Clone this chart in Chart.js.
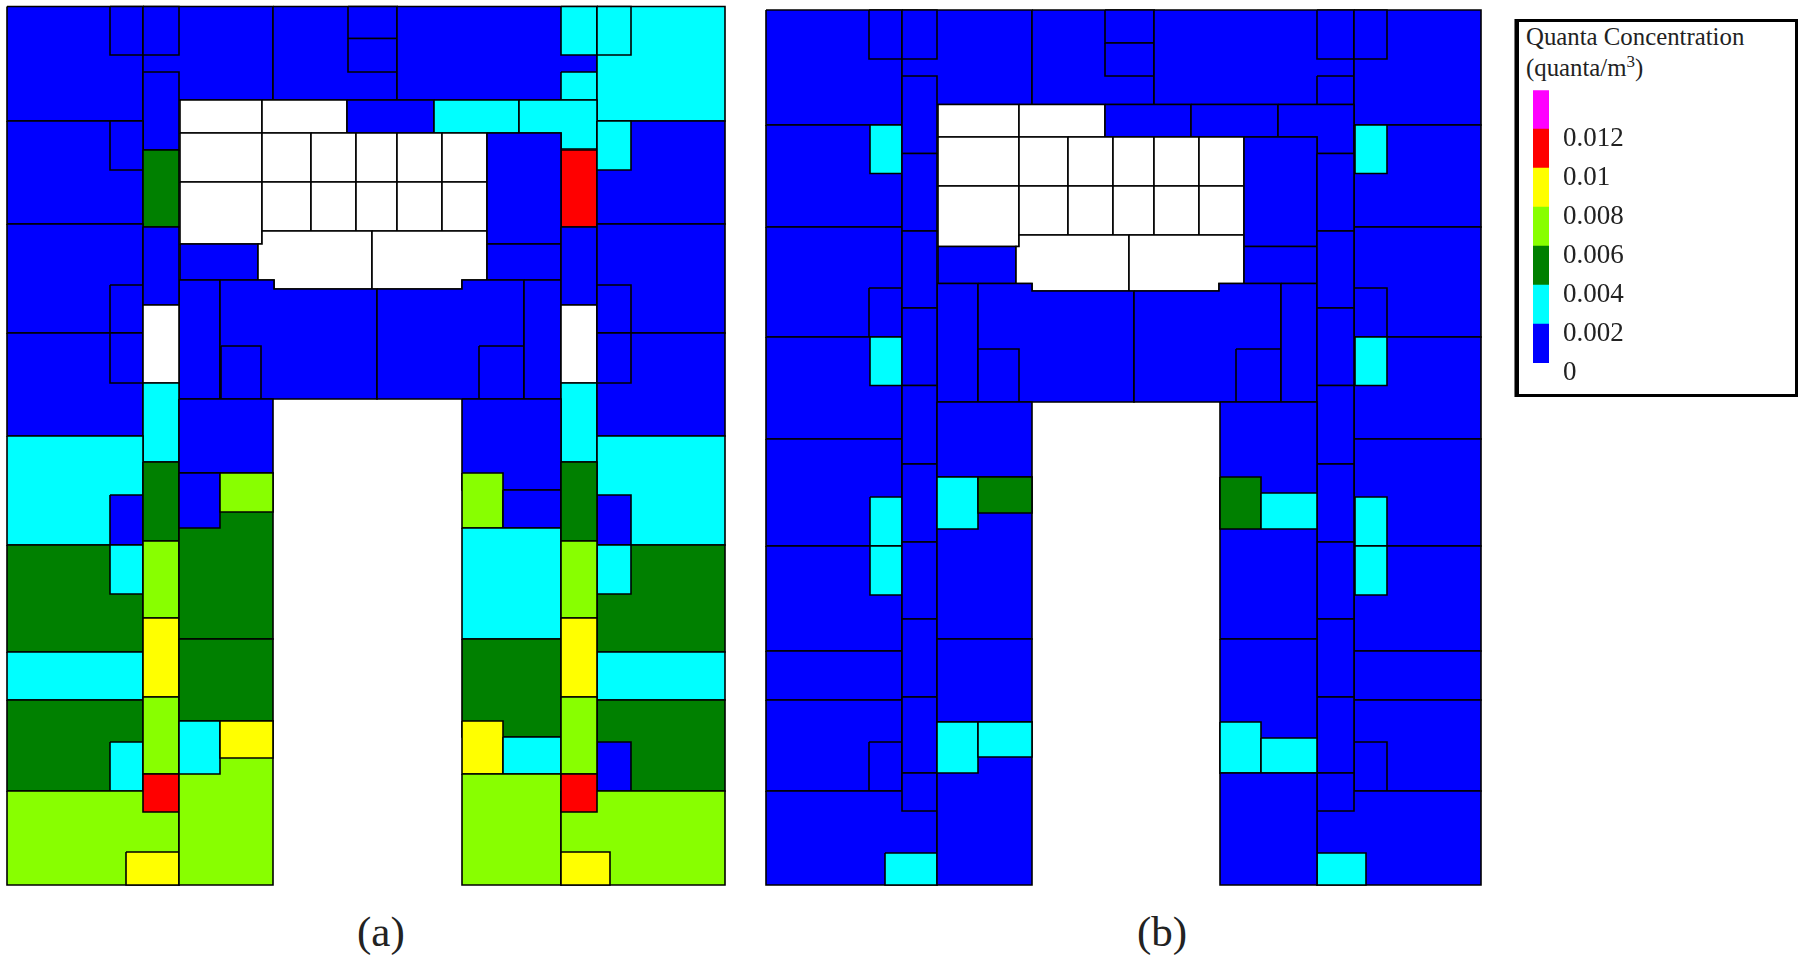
<!DOCTYPE html>
<html>
<head>
<meta charset="utf-8">
<title>Quanta Concentration</title>
<script src="https://cdn.jsdelivr.net/npm/chart.js@4"></script>
<style>
  html, body { margin: 0; padding: 0; background: #fff; width: 1800px; height: 962px; overflow: hidden; }
  canvas { position: absolute; display: block; }
  .caption { position: absolute; font-family: "Liberation Serif", serif; font-size: 43px; line-height: 48px; color: #222; }
  #legendBox { position: absolute; left: 1515px; top: 19px; width: 276px; height: 372px; border: 3px solid #000; border-left-width: 4px; box-shadow: -1px 0 0 #777; }
  #legendTitle { position: absolute; left: 1526px; top: 21px; font-family: "Liberation Serif", serif; font-size: 24.8px; line-height: 31px; color: #222; white-space: nowrap; }
  #legendTitle sup { font-size: 17px; line-height: 0; }
</style>
</head>
<body>
<canvas id="panelA" width="750" height="900" style="left:0;top:0"></canvas>
<canvas id="panelB" width="750" height="900" style="left:750px;top:0"></canvas>
<div class="caption" style="left:357px;top:908px">(a)</div>
<div class="caption" style="left:1137px;top:908px">(b)</div>
<div id="legendBox"></div>
<div id="legendTitle">Quanta Concentration<br>(quanta/m<sup>3</sup>)</div>
<canvas id="legendBar" width="250" height="349" style="left:1533px;top:60px"></canvas>
<script>
// colour bar
const levelColors = ['#0000ff', '#00ffff', '#008000', '#88ff00', '#ffff00', '#ff0000', '#ff00ff'];
const levelStep = 0.002;
const tickLabels = ['0', '0.002', '0.004', '0.006', '0.008', '0.01', '0.012', ''];

// rooms: [quanta/m3, outline in plan units], null = no value (white)
// two numbers pairs = opposite corners, more = polygon. Later rooms sit on top.
const roomsA = [
  [0.001, [7,6.5,143,121]], [0.001, [110,6.5,143,55]],
  [0.001, [143,6.5,273,100]], [0.001, [143,6.5,179,55]], [0.001, [143,72,179,150]],
  [0.001, [273,6.5,397,100]], [0.001, [348,6.5,397,38.5]], [0.001, [348,38.5,397,72]],
  [0.001, [397,6.5,597,100]], [0.003, [561,6.5,597,55]], [0.003, [561,72,597,100]],
  [0.003, [597,6.5,725,121]], [0.003, [597,6.5,631,55]],
  [null, [180,100,262,133]], [null, [262,100,347,133]], [0.001, [347,100,434,133]], [0.003, [434,100,519,133]],
  [0.003, [519,100,597,100,597,149,561,149,561,133,519,133]],
  [0.001, [7,121,143,224]], [0.001, [110,121,143,170]],
  [0.005, [143,150,179,227]], [0.011, [561,150,597,227]],
  [0.001, [597,121,725,224]], [0.003, [597,121,631,170]],
  [null, [180,133,262,182]], [null, [262,133,311,182]], [null, [311,133,356,182]], [null, [356,133,397,182]], [null, [397,133,442,182]], [null, [442,133,487,182]],
  [null, [180,182,262,244]], [null, [262,182,311,231]], [null, [311,182,356,231]], [null, [356,182,397,231]], [null, [397,182,442,231]], [null, [442,182,487,231]],
  [0.001, [180,244,258,280]],
  [null, [262,231,372,231,372,289,274,289,274,280,258,280,258,244,262,244]],
  [null, [372,231,487,231,487,280,462,280,462,289,372,289]],
  [0.001, [487,133,561,244]], [0.001, [487,244,561,280]],
  [0.001, [179,280,220,399]],
  [0.001, [220,280,274,280,274,289,377,289,377,399,220,399]], [0.001, [221,346,261,399]],
  [0.001, [377,289,462,289,462,280,524,280,524,399,377,399]], [0.001, [479,346,524,399]],
  [0.001, [524,280,561,399]],
  [0.001, [7,224,143,333]], [0.001, [110,285,143,333]],
  [0.001, [7,333,143,436]], [0.001, [110,333,143,383]],
  [0.001, [143,227,179,305]], [null, [143,305,179,383]], [0.003, [143,383,179,462]],
  [0.001, [561,227,597,305]], [null, [561,305,597,383]], [0.003, [561,383,597,462]],
  [0.001, [597,224,725,333]], [0.001, [597,285,631,333]],
  [0.001, [597,333,725,436]], [0.001, [597,333,631,383]],
  [0.003, [7,436,143,545]], [0.001, [110,495,143,545]],
  [0.005, [7,545,143,652]], [0.003, [110,545,143,594]],
  [0.003, [7,652,143,700]],
  [0.005, [7,700,143,791]], [0.003, [110,742,143,791]],
  [0.007, [7,791,179,885]], [0.009, [126,852,179,885]],
  [0.005, [143,462,179,541]], [0.007, [143,541,179,618]], [0.009, [143,618,179,697]], [0.007, [143,697,179,774]], [0.011, [143,774,179,812]],
  [0.001, [179,399,273,473]], [0.005, [179,473,273,639]], [0.001, [179,473,220,528]], [0.007, [220,473,273,512]],
  [0.005, [179,639,273,721]],
  [0.007, [179,721,273,885]], [0.003, [179,721,220,774]], [0.009, [220,721,273,758]],
  [0.001, [462,399,561,490]], [0.007, [462,473,503,528]], [0.001, [503,490,561,528]],
  [0.003, [462,528,561,639]],
  [0.005, [462,639,561,737]], [0.009, [462,721,503,774]], [0.003, [503,737,561,774]],
  [0.007, [462,774,561,885]],
  [0.003, [597,436,725,545]], [0.001, [597,495,631,545]],
  [0.005, [597,545,725,652]], [0.003, [597,545,631,594]],
  [0.003, [597,652,725,700]],
  [0.005, [597,700,725,791]], [0.001, [597,742,631,791]],
  [0.007, [561,791,725,885]], [0.009, [561,852,610,885]],
  [0.005, [561,462,597,541]], [0.007, [561,541,597,618]], [0.009, [561,618,597,697]], [0.007, [561,697,597,774]], [0.011, [561,774,597,812]]
];

const roomsB = [
  [0.001, [766,10,902,125]], [0.001, [869,10,902,59]],
  [0.001, [902,10,1032,104.5]], [0.001, [902,10,937,59]],
  [0.001, [1032,10,1154,104.5]], [0.001, [1105,10,1154,43]], [0.001, [1105,43,1154,76]],
  [0.001, [1154,10,1354,104.5]], [0.001, [1317,10,1354,59]], [0.001, [1317,76,1354,104.5]],
  [0.001, [1354,10,1481,125]], [0.001, [1354,10,1387,59]],
  [null, [938,104.5,1019,137]], [null, [1019,104.5,1105,137]], [0.001, [1105,104.5,1191,137]], [0.001, [1191,104.5,1278,137]],
  [0.001, [1278,104.5,1354,104.5,1354,153.5,1317,153.5,1317,137,1278,137]],
  [0.001, [766,125,902,227]], [0.003, [870,125,902,173.5]],
  [0.001, [1354,125,1481,227]], [0.003, [1355,125,1387,173.5]],
  [null, [938,137,1019,186]], [null, [1019,137,1068,186]], [null, [1068,137,1113,186]], [null, [1113,137,1154,186]], [null, [1154,137,1199,186]], [null, [1199,137,1244,186]],
  [null, [938,186,1019,246.5]], [null, [1019,186,1068,235]], [null, [1068,186,1113,235]], [null, [1113,186,1154,235]], [null, [1154,186,1199,235]], [null, [1199,186,1244,235]],
  [0.001, [938,246.5,1016,283.5]],
  [null, [1019,235,1129,235,1129,291,1032,291,1032,283.5,1016,283.5,1016,246.5,1019,246.5]],
  [null, [1129,235,1244,235,1244,283.5,1219,283.5,1219,291,1129,291]],
  [0.001, [1244,137,1317,246.5]], [0.001, [1244,246.5,1317,283.5]],
  [0.001, [937,283.5,978,402]],
  [0.001, [978,283.5,1032,283.5,1032,291,1134,291,1134,402,978,402]], [0.001, [978,349,1019,402]],
  [0.001, [1134,291,1219,291,1219,283.5,1281,283.5,1281,402,1134,402]], [0.001, [1236,349,1281,402]],
  [0.001, [1281,283.5,1317,402]],
  [0.001, [766,227,902,337]], [0.001, [869,288,902,337]],
  [0.001, [766,337,902,439]], [0.003, [870,337,902,385.5]],
  [0.001, [1354,227,1481,337]], [0.001, [1354,288,1387,337]],
  [0.001, [1354,337,1481,439]], [0.003, [1355,337,1387,385.5]],
  [0.001, [766,439,902,546]], [0.003, [870,497,902,546]],
  [0.001, [766,546,902,651]], [0.003, [870,546,902,595]],
  [0.001, [766,651,902,700]],
  [0.001, [766,700,902,791]], [0.001, [869,742,902,791]],
  [0.001, [766,791,937,885]], [0.003, [885,853,937,885]],
  [0.001, [1354,439,1481,546]], [0.003, [1355,497,1387,546]],
  [0.001, [1354,546,1481,651]], [0.003, [1355,546,1387,595]],
  [0.001, [1354,651,1481,700]],
  [0.001, [1354,700,1481,791]], [0.001, [1354,742,1387,791]],
  [0.001, [1317,791,1481,885]], [0.003, [1317,853,1366,885]],
  [0.001, [902,76,937,153.5]], [0.001, [902,153.5,937,231]], [0.001, [902,231,937,308]], [0.001, [902,308,937,385.5]], [0.001, [902,385.5,937,464]], [0.001, [902,464,937,542]], [0.001, [902,542,937,619]], [0.001, [902,619,937,697]], [0.001, [902,697,937,773]], [0.001, [902,773,937,811]],
  [0.001, [1317,153.5,1354,231]], [0.001, [1317,231,1354,308]], [0.001, [1317,308,1354,385.5]], [0.001, [1317,385.5,1354,464]], [0.001, [1317,464,1354,542]], [0.001, [1317,542,1354,619]], [0.001, [1317,619,1354,697]], [0.001, [1317,697,1354,773]], [0.001, [1317,773,1354,811]],
  [0.001, [937,402,1032,477]], [0.001, [937,477,1032,639]], [0.003, [937,477,978,529]], [0.005, [978,477,1032,513]],
  [0.001, [937,639,1032,722]],
  [0.001, [937,722,1032,885]], [0.003, [937,722,978,773]], [0.003, [978,722,1032,757]],
  [0.001, [1220,402,1317,639]], [0.005, [1220,477,1261,529]], [0.003, [1261,493,1317,529]],
  [0.001, [1220,639,1317,773]], [0.003, [1220,722,1261,773]], [0.003, [1261,738,1317,773]],
  [0.001, [1220,773,1317,885]]
];

function roomColor(value) {
  if (value === null) return '#ffffff';
  return levelColors[Math.floor(value / levelStep)];
}

function outline(coords) {
  const c = coords.length === 4
    ? [coords[0], coords[1], coords[2], coords[1], coords[2], coords[3], coords[0], coords[3]]
    : coords;
  const pts = [];
  for (let i = 0; i < c.length; i += 2) pts.push({ x: c[i], y: c[i + 1] });
  pts.push({ x: c[0], y: c[1] });
  return pts;
}

function buildPanel(canvasId, rooms, xMin) {
  // chart.js paints dataset 0 last, so reverse to keep the list order
  const datasets = rooms.map(([value, coords]) => ({
    data: outline(coords),
    showLine: true,
    fill: 'shape',
    backgroundColor: roomColor(value),
    borderColor: '#000',
    borderWidth: 1.6,
    borderJoinStyle: 'miter',
    pointRadius: 0,
    tension: 0,
    clip: false
  })).reverse();

  new Chart(document.getElementById(canvasId), {
    type: 'scatter',
    data: { datasets },
    options: {
      responsive: false,
      animation: false,
      layout: { padding: 0 },
      plugins: { legend: { display: false }, tooltip: { enabled: false } },
      scales: {
        x: { type: 'linear', display: false, min: xMin, max: xMin + 750 },
        y: { type: 'linear', display: false, min: 0, max: 900, reverse: true }
      }
    }
  });
}

buildPanel('panelA', roomsA, 0);
buildPanel('panelB', roomsB, 750);

new Chart(document.getElementById('legendBar'), {
  type: 'bar',
  data: {
    labels: [''],
    datasets: levelColors.map(color => ({
      data: [levelStep],
      backgroundColor: color,
      barPercentage: 1,
      categoryPercentage: 1
    }))
  },
  options: {
    responsive: false,
    animation: false,
    layout: { padding: { top: 0, bottom: 46 } },
    plugins: { legend: { display: false }, tooltip: { enabled: false } },
    scales: {
      x: { stacked: true, display: false },
      y: {
        stacked: true,
        position: 'right',
        min: 0,
        max: levelStep * 7,
        afterFit: scale => { scale.width = 234; },
        grid: { display: false, drawTicks: false },
        border: { display: false },
        ticks: {
          stepSize: levelStep,
          autoSkip: false,
          padding: 14,
          crossAlign: 'near',
          labelOffset: 10,
          color: '#222',
          font: { family: '"Liberation Serif", serif', size: 27 },
          callback: (value, index) => tickLabels[index]
        }
      }
    }
  }
});
</script>
</body>
</html>
